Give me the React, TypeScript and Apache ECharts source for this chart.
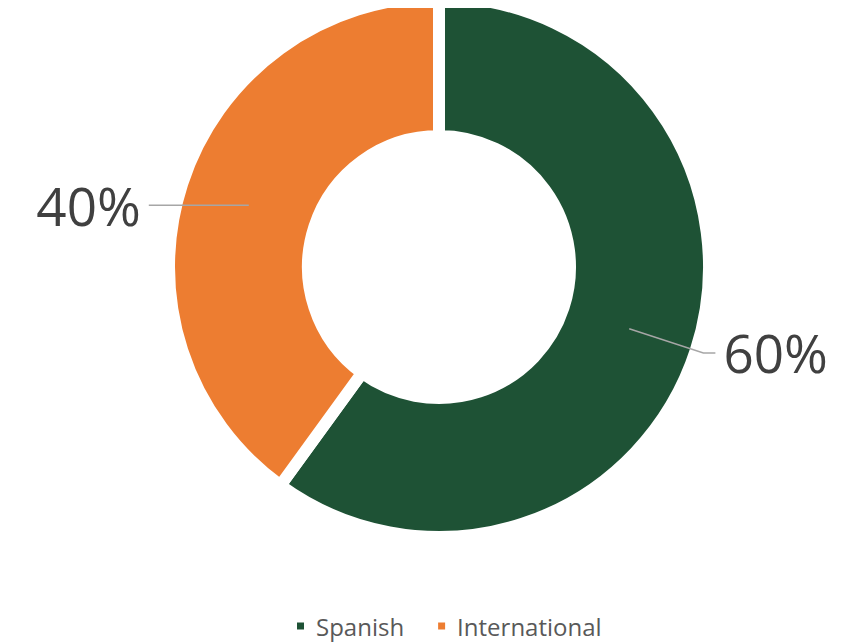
import React, { useEffect, useRef } from "react";
import * as echarts from "echarts";

const categories = ["Spanish", "International"];
const values = [60, 40];
const colors = ["#1e5235", "#ed7d31"];

export default function App() {
  const ref = useRef<HTMLDivElement>(null);
  useEffect(() => {
    const chart = echarts.init(ref.current!, null, { renderer: "svg" });
    const ringData = categories.map((name, i) => ({
      name,
      value: values[i],
      itemStyle: { color: colors[i] },
    }));
    const labelData = categories.map((name, i) => ({
      name,
      value: values[i],
      labelLine:
        i === 0
          ? { length: 78, length2: 12 }
          : { length: 0, length2: 100 },
    }));
    chart.setOption({
      animation: false,
      legend: {
        data: categories,
        top: 601,
        left: 282,
        icon: "rect",
        itemWidth: 9,
        itemHeight: 9,
        itemGap: 32,
        textStyle: {
          fontFamily: "Open Sans",
          fontSize: 24,
          color: "#595959",
          padding: [0, 0, 0, 6],
        },
      },
      series: [
        {
          type: "pie",
          name: "ring",
          z: 1,
          center: [431, 259],
          radius: [131, 270],
          startAngle: 90,
          clockwise: true,
          silent: true,
          label: { show: false },
          labelLine: { show: false },
          itemStyle: { borderColor: "#ffffff", borderWidth: 12 },
          data: ringData,
        },
        {
          type: "pie",
          name: "labels",
          z: 5,
          center: [431, 259],
          radius: [0, 200],
          startAngle: 90,
          clockwise: true,
          silent: true,
          itemStyle: { color: "rgba(0,0,0,0)" },
          label: {
            show: true,
            position: "outside",
            formatter: "{c}%",
            fontFamily: "Open Sans",
            fontSize: 53,
            color: "#404040",
            distanceToLabelLine: 8,
          },
          labelLine: {
            show: true,
            lineStyle: { color: "#a6a6a6", width: 1.5 },
          },
          data: labelData,
        },
      ],
    });
    return () => chart.dispose();
  }, []);
  return <div ref={ref} style={{ width: 838, height: 634 }} />;
}
